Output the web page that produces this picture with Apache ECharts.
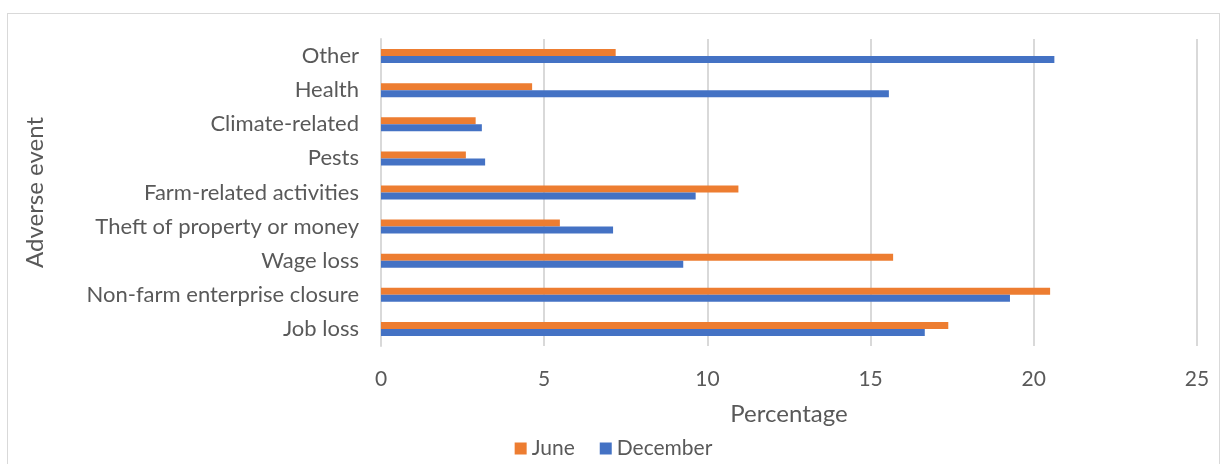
<!DOCTYPE html>
<html>
<head>
<meta charset="utf-8">
<script src="https://cdn.jsdelivr.net/npm/echarts@6/dist/echarts.min.js"></script>
<style>
  html, body { margin: 0; padding: 0; background: #fff; }
  #frame { position: absolute; left: 7px; top: 13px; width: 1211px; height: 460px; border: 1px solid #d9d9d9; }
  #chart { position: absolute; left: 0; top: 0; width: 1227px; height: 464px; }
</style>
</head>
<body>
<div id="frame"></div>
<div id="chart"></div>
<script>
// categories listed bottom -> top
const categories = [
  "Job loss",
  "Non-farm enterprise closure",
  "Wage loss",
  "Theft of property or money",
  "Farm-related activities",
  "Pests",
  "Climate-related",
  "Health",
  "Other"
];
const juneValues = [17.38, 20.5, 15.69, 5.48, 10.95, 2.6, 2.9, 4.63, 7.19];
const decemberValues = [16.66, 19.27, 9.26, 7.11, 9.64, 3.19, 3.09, 15.56, 20.63];
const xTicks = { min: 0, max: 25, interval: 5 };

const textColor = "#595959";
const font = "Lato, 'Open Sans', sans-serif";

const myChart = echarts.init(document.getElementById("chart"));
const option = {
  animation: false,
  textStyle: { fontFamily: font },
  grid: { left: 381, right: 30, top: 39, bottom: 118 },
  legend: {
    data: ["June", "December"],
    bottom: 0,
    left: "center",
    itemWidth: 12,
    itemHeight: 12,
    itemGap: 25,
    icon: "rect",
    textStyle: { color: textColor, fontSize: 21, fontFamily: font }
  },
  xAxis: {
    type: "value",
    min: xTicks.min,
    max: xTicks.max,
    interval: xTicks.interval,
    name: "Percentage",
    nameLocation: "middle",
    nameGap: 56,
    nameTextStyle: { color: textColor, fontSize: 24, fontFamily: font },
    axisLine: { show: false },
    axisTick: { show: false },
    axisLabel: { color: textColor, fontSize: 21, margin: 23 },
    splitLine: { lineStyle: { color: "#d9d9d9", width: 2 } }
  },
  yAxis: {
    type: "category",
    data: categories,
    name: "Adverse event",
    nameLocation: "middle",
    nameRotate: 90,
    nameGap: 334,
    nameTextStyle: { color: textColor, fontSize: 24, fontFamily: font },
    axisLine: { show: true, lineStyle: { color: "#d9d9d9", width: 2 } },
    axisTick: { show: false },
    axisLabel: { color: textColor, fontSize: 22, margin: 22 }
  },
  series: [
    {
      name: "June",
      type: "bar",
      data: juneValues,
      barWidth: 7,
      barGap: "0%",
      itemStyle: { color: "#ED7D31" }
    },
    {
      name: "December",
      type: "bar",
      data: decemberValues,
      barWidth: 7,
      barGap: "0%",
      itemStyle: { color: "#4472C4" }
    }
  ]
};
myChart.setOption(option);
</script>
</body>
</html>
